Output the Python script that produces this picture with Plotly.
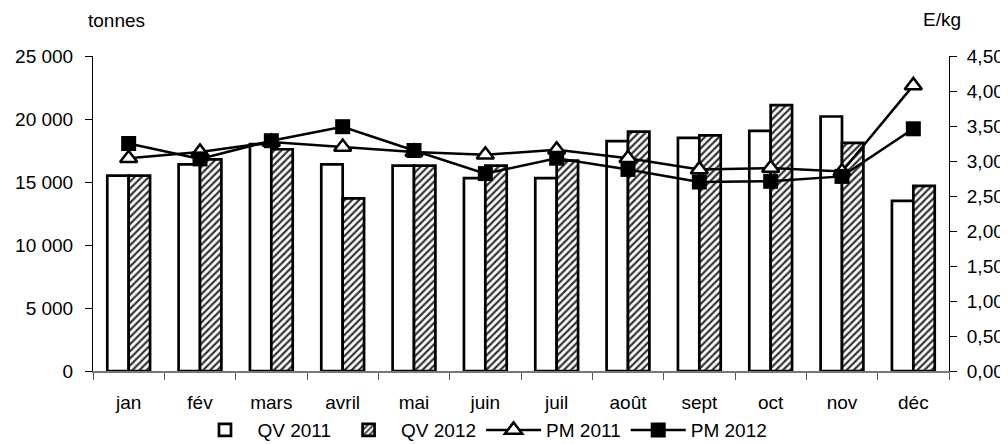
import plotly.graph_objects as go

months = ["jan", "fév", "mars", "avril", "mai", "juin", "juil", "août", "sept", "oct", "nov", "déc"]
qv_2011 = [15500, 16400, 18000, 16400, 16300, 15300, 15300, 18250, 18500, 19050, 20200, 13500]
qv_2012 = [15500, 16800, 17600, 13700, 16300, 16300, 16700, 19000, 18700, 21100, 18100, 14700]
pm_2011 = [3.04, 3.13, 3.27, 3.20, 3.13, 3.09, 3.16, 3.04, 2.88, 2.90, 2.85, 4.08]
pm_2012 = [3.25, 3.03, 3.29, 3.49, 3.15, 2.82, 3.04, 2.88, 2.70, 2.71, 2.78, 3.46]

FONT = "Liberation Sans, Arial, sans-serif"
FS = 19

fig = go.Figure()
fig.add_trace(go.Bar(x=months, y=qv_2011, name="QV 2011",
                     marker=dict(color="white", line=dict(color="black", width=2.7))))
fig.add_trace(go.Bar(x=months, y=qv_2012, name="QV 2012",
                     marker=dict(color="white", line=dict(color="black", width=2.7),
                                 pattern=dict(shape="/", fgcolor="#333", bgcolor="white",
                                              size=5, solidity=0.45))))
fig.add_trace(go.Scatter(x=months, y=pm_2011, name="PM 2011", yaxis="y2", mode="lines+markers",
                         line=dict(color="black", width=2.5),
                         marker=dict(symbol="triangle-up", size=15, color="white",
                                     line=dict(color="black", width=2.5))))
fig.add_trace(go.Scatter(x=months, y=pm_2012, name="PM 2012", yaxis="y2", mode="lines+markers",
                         line=dict(color="black", width=2.5),
                         marker=dict(symbol="square", size=15, color="black")))

tick_common = dict(ticklen=7, tickcolor="black", tickwidth=1, automargin=False)

# the page body keeps an 8px margin, so the figure is 8px smaller than the window
fig.update_layout(
    template="none",
    width=1000, height=436,
    margin=dict(l=85, r=59, t=48, b=73, pad=0),
    paper_bgcolor="white", plot_bgcolor="white",
    font=dict(family=FONT, size=FS, color="black"),
    separators=", ",
    barmode="group", bargap=0.4, bargroupgap=0,
    xaxis=dict(type="category", tickson="boundaries", ticks="outside", ticklen=7,
               tickcolor="#555", showline=True, linecolor="#777", linewidth=1.5,
               showgrid=False, zeroline=False, ticklabelstandoff=13, range=[-0.5, 11.5],
               automargin=False),
    xaxis2=dict(overlaying="x", anchor="y", side="bottom", range=[0, 12], dtick=1, tick0=0,
                ticks="inside", ticklen=7, tickcolor="#555", showticklabels=False,
                showgrid=False, showline=False, zeroline=False, automargin=False),
    yaxis=dict(range=[0, 25000], dtick=5000, tickformat=",.0f", ticks="outside",
               showline=True, linecolor="black", linewidth=1, showgrid=False, zeroline=False,
               ticklabelstandoff=8, **tick_common),
    yaxis3=dict(overlaying="y", side="left", anchor="x", range=[0, 25000], dtick=5000,
                ticks="inside", showticklabels=False, showgrid=False, zeroline=False,
                **tick_common),
    yaxis2=dict(overlaying="y", side="right", anchor="x", range=[0, 4.5], dtick=0.5,
                tickformat=".2f", ticks="outside", showline=True, linecolor="black",
                linewidth=1, showgrid=False, zeroline=False, ticklabelstandoff=6,
                **tick_common),
    yaxis4=dict(overlaying="y", side="right", anchor="x", range=[0, 4.5], dtick=0.5,
                ticks="inside", showticklabels=False, showgrid=False, zeroline=False,
                **tick_common),
    legend=dict(orientation="h", x=0.455, xanchor="center", yref="container",
                y=0.032, yanchor="middle", font=dict(size=FS), itemwidth=55,
                bgcolor="rgba(0,0,0,0)"),
    annotations=[
        dict(text="tonnes", x=0.027, y=1.114, xref="paper", yref="paper",
             showarrow=False, xanchor="center", yanchor="middle"),
        dict(text="E/kg", x=0.992, y=1.117, xref="paper", yref="paper",
             showarrow=False, xanchor="center", yanchor="middle"),
    ],
)

fig.write_html("out.html")
